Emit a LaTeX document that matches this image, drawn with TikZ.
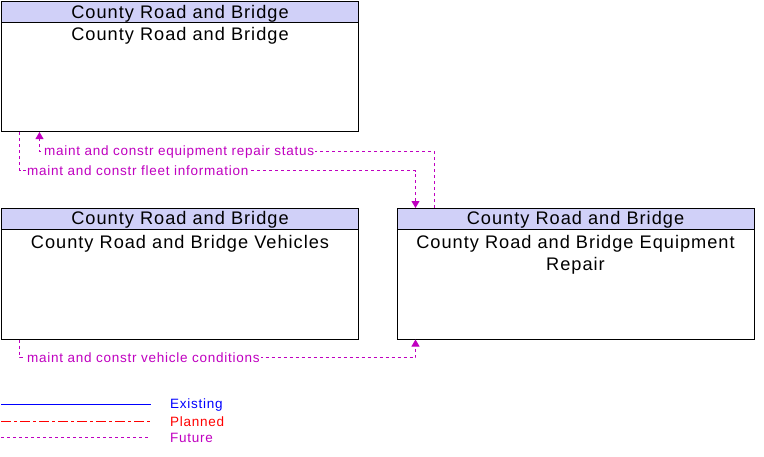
\documentclass[tikz,border=0pt]{standalone}
\usepackage{fontspec}
\setmainfont{Liberation Sans}[LetterSpace=5.5]
\usetikzlibrary{arrows.meta}
\definecolor{hdr}{RGB}{208,208,248}
\definecolor{flow}{RGB}{192,0,192}
\definecolor{legred}{RGB}{255,0,0}
\definecolor{legblue}{RGB}{0,0,255}
\tikzset{
 box/.style={draw=black, line width=1pt, minimum width=357pt, minimum height=130pt, inner sep=0pt},
 hdrbox/.style={draw=black, fill=hdr, line width=1pt, minimum width=357pt, minimum height=21pt, inner sep=0pt},
 bodytext/.style={font=\fontsize{18.2}{22}\selectfont, align=center, inner sep=0pt},
 flowline/.style={draw=flow, line width=1pt, dash pattern=on 3pt off 3pt},
 flowarrow/.style={flowline, -{Triangle[width=8pt,length=7pt]}},
 flowlabel/.style={text=flow, font=\fontsize{13.5}{16}\selectfont, fill=white, inner sep=1pt, anchor=west},
 legtext/.style={font=\fontsize{13.5}{16}\selectfont, anchor=west, inner sep=0pt},
 legseg/.style={line width=1pt, line cap=butt},
}
\begin{document}
\begin{tikzpicture}[x=1pt,y=-1pt]
\useasboundingbox (0,0) rectangle (764,456);
% legend
\coordinate (e1) at (1,404.5); \coordinate (e2) at (151,404.5);
\draw[legseg, draw=legblue] (e1) -- (e2);
\foreach \i in {0,...,7} {
  \draw[legseg, draw=legred] (1+19*\i,421.5) -- ++(10,0);
  \draw[legseg, draw=legred] (14+19*\i,421.5) -- ++(3,0);
}
\foreach \i in {0,...,24} {
  \draw[legseg, draw=flow] (1+6*\i,437.5) -- ++(3,0);
}
\node[legtext, text=legblue] (le) at (170,405) {Existing};
\node[legtext, text=legred] (lp) at (170,422) {Planned};
\node[legtext, text=flow] (lf) at (170,438) {Future};
% boxes
\node[box] (A) at (180,66.5) {};
\node[hdrbox] (Ah) at (180,12) {};
\node[bodytext] (Aht) at (180,13.5) {County Road and Bridge};
\node[bodytext] (At) at (180,35.5) {County Road and Bridge};
\node[box] (B) at (180,274) {};
\node[hdrbox] (Bh) at (180,219) {};
\node[bodytext] (Bht) at (180,220) {County Road and Bridge};
\node[bodytext] (Bt) at (180,243.5) {County Road and Bridge Vehicles};
\node[box] (C) at (575.5,274) {};
\node[hdrbox] (Ch) at (575.5,219) {};
\node[bodytext] (Cht) at (575.5,220) {County Road and Bridge};
\node[bodytext] (Ct) at (575.5,254.5) {County Road and Bridge Equipment\\Repair};
% bend points
\coordinate (s1) at (434.5,151.5);
\coordinate (s2) at (39.5,151.5);
\coordinate (f1) at (19.5,170.5);
\coordinate (f2) at (415.5,170.5);
\coordinate (v1) at (19.5,357.5);
\coordinate (v2) at (415.5,357.5);
% connectors
\draw[flowarrow] (Ch.north -| s1) -- (s1) -- (s2) -- (A.south -| s2);
\draw[flowarrow] (A.south -| f1) -- (f1) -- (f2) -- (Ch.north -| f2);
\draw[flowarrow] (B.south -| v1) -- (v1) -- (v2) -- (C.south -| v2);
\node[flowlabel] (l1) at (43,152) {maint and constr equipment repair status};
\node[flowlabel] (l2) at (26,171) {maint and constr fleet information};
\node[flowlabel] (l3) at (26,358) {maint and constr vehicle conditions};
\end{tikzpicture}
\end{document}
